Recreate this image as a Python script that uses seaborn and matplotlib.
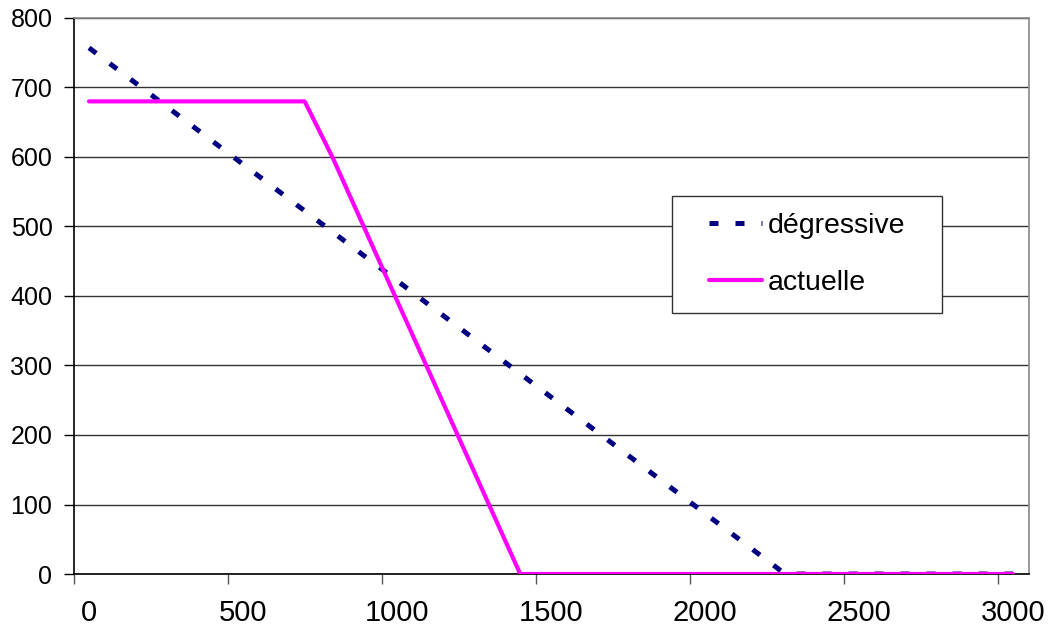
import numpy as np
import pandas as pd
import matplotlib
matplotlib.use("Agg")
import matplotlib.pyplot as plt
from matplotlib.path import Path
import seaborn as sns

# values
degr_x = [0, 2260, 3000]
degr_y = [757, 0, 0]

act_x = [0, 700, 790, 1400, 3000]
act_y = [680, 680, 600, 0, 0]

x_labels = [0, 500, 1000, 1500, 2000, 2500, 3000]
y_ticks = [0, 100, 200, 300, 400, 500, 600, 700, 800]

sns.set_style("white")
plt.rcParams["font.family"] = ["Liberation Sans", "DejaVu Sans"]
plt.rcParams["text.color"] = "black"
plt.rcParams["xtick.labelcolor"] = "black"
plt.rcParams["ytick.labelcolor"] = "black"

fig = plt.figure(figsize=(10.55, 6.33), dpi=100)
ax = fig.add_axes([0.0701, 0.0932, 0.9053, 0.8784])

degr = pd.DataFrame({"x": degr_x, "y": degr_y})
act = pd.DataFrame({"x": act_x, "y": act_y})

sns.lineplot(data=degr, x="x", y="y", ax=ax, color="#000080", linewidth=3.6,
             linestyle=(0, (1.8, 3.4)), label="dégressive", sort=False,
             estimator=None, zorder=3)
sns.lineplot(data=act, x="x", y="y", ax=ax, color="#FF00FF", linewidth=3.0,
             label="actuelle", sort=False, estimator=None, zorder=4)
for ln in ax.get_lines():
    ln.set_dash_capstyle("butt")
    ln.set_solid_capstyle("round")

ax.set_xlim(-49, 3052)
ax.set_ylim(0, 800)

# excel-like category axis: tick marks sit between label positions
ax.set_xticks([v - 48 for v in x_labels])
ax.set_xticklabels([])
ax.set_xticks(x_labels, minor=True)
ax.set_xticklabels([str(v) for v in x_labels], minor=True, fontsize=21)
ax.tick_params(axis="x", which="minor", length=0, pad=18, labelcolor="black")
ax.tick_params(axis="x", which="major", length=7, width=1, color="#555555",
               direction="out", bottom=True)

ax.set_yticks(y_ticks)
ax.set_yticklabels([str(v) for v in y_ticks], fontsize=18)
ax.tick_params(axis="y", length=7, width=1, color="black", direction="out",
               left=True, pad=8.5, labelcolor="black")

ax.yaxis.grid(True, color="#333333", linewidth=1)
ax.set_axisbelow(True)
ax.set_xlabel("")
ax.set_ylabel("")

for s in ["left", "bottom"]:
    ax.spines[s].set_color("black")
    ax.spines[s].set_linewidth(1.2)
for s in ["top", "right"]:
    ax.spines[s].set_color("#888888")
    ax.spines[s].set_linewidth(1.2)


# legend frame with more side padding than top/bottom, like the excel box
def wide_box(x0, y0, width, height, mutation_size):
    ex = 0.69 * mutation_size
    x0, x1 = x0 - ex, x0 + width + ex
    y1 = y0 + height
    return Path([(x0, y0), (x1, y0), (x1, y1), (x0, y1), (x0, y0)], closed=True)


leg = ax.legend(loc="upper left", bbox_to_anchor=(0.647, 0.680),
                borderaxespad=0, fontsize=20.5, frameon=True, fancybox=False,
                edgecolor="#333333", framealpha=1, borderpad=0.6,
                labelspacing=1.1, handlelength=1.86, handletextpad=0.21)
leg.get_frame().set_boxstyle(wide_box)
leg.get_frame().set_linewidth(1.0)
for t in leg.get_texts():
    t.set_color("black")

fig.savefig("out.png", dpi=100)
